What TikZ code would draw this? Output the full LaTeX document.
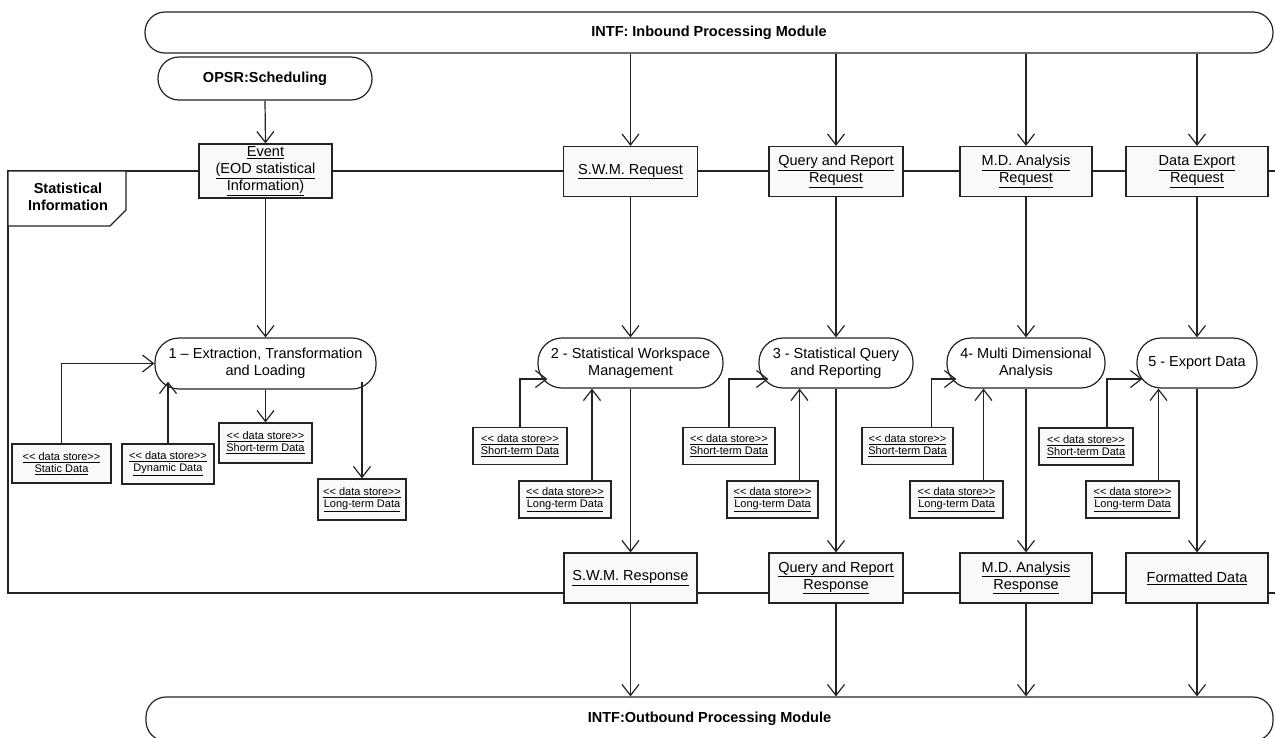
\documentclass[tikz,border=0pt]{standalone}
\usepackage{fontspec}
\setmainfont{Liberation Sans}
\usetikzlibrary{calc,arrows.meta}
\definecolor{lineC}{RGB}{35,35,35}
\definecolor{boxfill}{RGB}{249,249,249}
\newcommand{\dstore}[1]{\underline{<\kern0pt< data store>\kern0pt>}\\\underline{#1}}

\begin{document}
\begin{tikzpicture}[x=1pt, y=-1pt, >={Straight Barb[length=11pt,width=17pt]},
    every node/.style={align=center, inner sep=0pt},
    line/.style={draw=lineC, line width=1.2pt},
    flow/.style={line, ->},
    module/.style={line, fill=white, rounded corners=20pt, font={\fontsize{14.5}{17}\selectfont\bfseries}},
    process/.style={line, fill=white, rounded corners=24pt, minimum height=50pt, font={\fontsize{14.5}{17}\selectfont}},
    flowbox/.style={line, fill=boxfill, minimum height=50pt, font={\fontsize{14.5}{17}\selectfont}},
    storebox/.style={line, fill=boxfill, minimum height=37pt, font={\fontsize{11}{12}\selectfont}}]
    \useasboundingbox (0,0) rectangle (1275,737);

    % partition frame
    \draw[line] (1280,171) -- (8,171) -- (8,593) -- (1280,593);
    \draw[line, fill=white] (8,171) -- (126,171) -- (126,210) -- (110,226) -- (8,226) -- cycle;
    \node[font={\fontsize{14.5}{17}\selectfont\bfseries}] (info) at (68,197) {Statistical\\Information};

    % interfaces
    \node[module, minimum width=1128pt, minimum height=41pt] (inbound) at (709,32.5) {INTF: Inbound Processing Module};
    \node[module, minimum width=1127pt, minimum height=44pt] (outbound) at (709.5,719) {INTF:Outbound Processing Module};
    \node[module, rounded corners=21pt, minimum width=214pt, minimum height=43pt] (opsr) at (265,78.5) {OPSR:Scheduling};

    % requests, responses
    \node[flowbox, minimum width=133pt, minimum height=54pt] (event) at (265.5,171) {\underline{Event}\\\underline{(EOD statistical}\\\underline{Information)}};
    \node[flowbox, minimum width=134pt] (swmreq) at (630.5,171.5) {\underline{S.W.M. Request}};
    \node[flowbox, minimum width=134pt] (qrreq) at (836,171.5) {\underline{Query and Report}\\\underline{Request}};
    \node[flowbox, minimum width=132pt] (mdreq) at (1026,171.5) {\underline{M.D. Analysis}\\\underline{Request}};
    \node[flowbox, minimum width=142pt] (dereq) at (1197,171.5) {\underline{Data Export}\\\underline{Request}};

    \node[flowbox, minimum width=133pt] (swmres) at (630.5,578) {\underline{S.W.M. Response}};
    \node[flowbox, minimum width=134pt] (qrres) at (836,578) {\underline{Query and Report}\\\underline{Response}};
    \node[flowbox, minimum width=132pt] (mdres) at (1026,578) {\underline{M.D. Analysis}\\\underline{Response}};
    \node[flowbox, minimum width=142pt] (fmt) at (1197,578) {\underline{Formatted Data}};

    % processes
    \node[process, minimum width=221pt, minimum height=51pt] (p1) at (265.5,363.5) {1 – Extraction, Transformation\\and Loading};
    \node[process, minimum width=185pt] (p2) at (630.5,363) {2 - Statistical Workspace\\Management};
    \node[process, minimum width=154pt] (p3) at (836,363) {3 - Statistical Query\\and Reporting};
    \node[process, minimum width=158pt] (p4) at (1026,363) {4- Multi Dimensional\\Analysis};
    \node[process, minimum width=120pt] (p5) at (1197,363) {5 - Export Data};

    % data stores
    \node[storebox, minimum width=99pt, minimum height=39pt] (static) at (61.5,463.5) {\dstore{Static Data}};
    \node[storebox, minimum width=92pt, minimum height=40pt] (dyn) at (168,464) {\dstore{Dynamic Data}};
    \node[storebox, minimum width=93pt, minimum height=40pt] (st1) at (265.5,443) {\dstore{Short-term Data}};
    \node[storebox, minimum width=88pt, minimum height=41pt] (lt1) at (362,499.5) {\dstore{Long-term Data}};
    \node[storebox, minimum width=94pt] (st2) at (520,446) {\dstore{Short-term Data}};
    \node[storebox, minimum width=92pt] (lt2) at (565,499.5) {\dstore{Long-term Data}};
    \node[storebox, minimum width=92pt] (st3) at (729,446) {\dstore{Short-term Data}};
    \node[storebox, minimum width=91pt] (lt3) at (772.5,499.5) {\dstore{Long-term Data}};
    \node[storebox, minimum width=91pt] (st4) at (907.5,446) {\dstore{Short-term Data}};
    \node[storebox, minimum width=93pt] (lt4) at (956.5,499.5) {\dstore{Long-term Data}};
    \node[storebox, minimum width=94pt] (st5) at (1086,446.5) {\dstore{Short-term Data}};
    \node[storebox, minimum width=93pt] (lt5) at (1132.5,499.5) {\dstore{Long-term Data}};

    % column 1
    \draw[flow] (opsr.south) -- (event.north);
    \draw[flow] (event.south) -- (p1.north);
    \draw[flow] (static.north) |- (p1.west);
    \draw[flow] (dyn.north) -- ($(dyn.north |- p1.south)+(0,-8)$);
    \draw[flow] (p1.south) -- (st1.north);
    \draw[flow] ($(lt1.north |- p1.south)+(0,-8)$) -- (lt1.north);

    % columns 2 to 5
    \draw[flow] (inbound.south -| swmreq.north) -- (swmreq.north);
    \draw[flow] (swmreq.south) -- (p2.north);
    \draw[flow] (p2.south) -- (swmres.north);
    \draw[flow] (swmres.south) -- (outbound.north -| swmres.south);
    \draw[flow] (st2.north) |- ($(p2.west)+(10,16)$);
    \draw[flow] ($(lt2.north)+(27,0)$) coordinate (u2) -- (u2 |- p2.south);

    \draw[flow] (inbound.south -| qrreq.north) -- (qrreq.north);
    \draw[flow] (qrreq.south) -- (p3.north);
    \draw[flow] (p3.south) -- (qrres.north);
    \draw[flow] (qrres.south) -- (outbound.north -| qrres.south);
    \draw[flow] (st3.north) |- ($(p3.west)+(10,16)$);
    \draw[flow] ($(lt3.north)+(27,0)$) coordinate (u3) -- (u3 |- p3.south);

    \draw[flow] (inbound.south -| mdreq.north) -- (mdreq.north);
    \draw[flow] (mdreq.south) -- (p4.north);
    \draw[flow] (p4.south) -- (mdres.north);
    \draw[flow] (mdres.south) -- (outbound.north -| mdres.south);
    \draw[flow] ($(st4.north)+(24,0)$) coordinate (v4) |- ($(p4.west)+(10,16)$);
    \draw[flow] ($(lt4.north)+(27,0)$) coordinate (u4) -- (u4 |- p4.south);

    \draw[flow] (inbound.south -| dereq.north) -- (dereq.north);
    \draw[flow] (dereq.south) -- (p5.north);
    \draw[flow] (p5.south) -- (fmt.north);
    \draw[flow] (fmt.south) -- (outbound.north -| fmt.south);
    \draw[flow] ($(st5.north)+(21,0)$) coordinate (v5) |- ($(p5.west)+(6,16)$);
    \draw[flow] ($(lt5.north)+(26,0)$) coordinate (u5) -- (u5 |- p5.south);
\end{tikzpicture}
\end{document}
